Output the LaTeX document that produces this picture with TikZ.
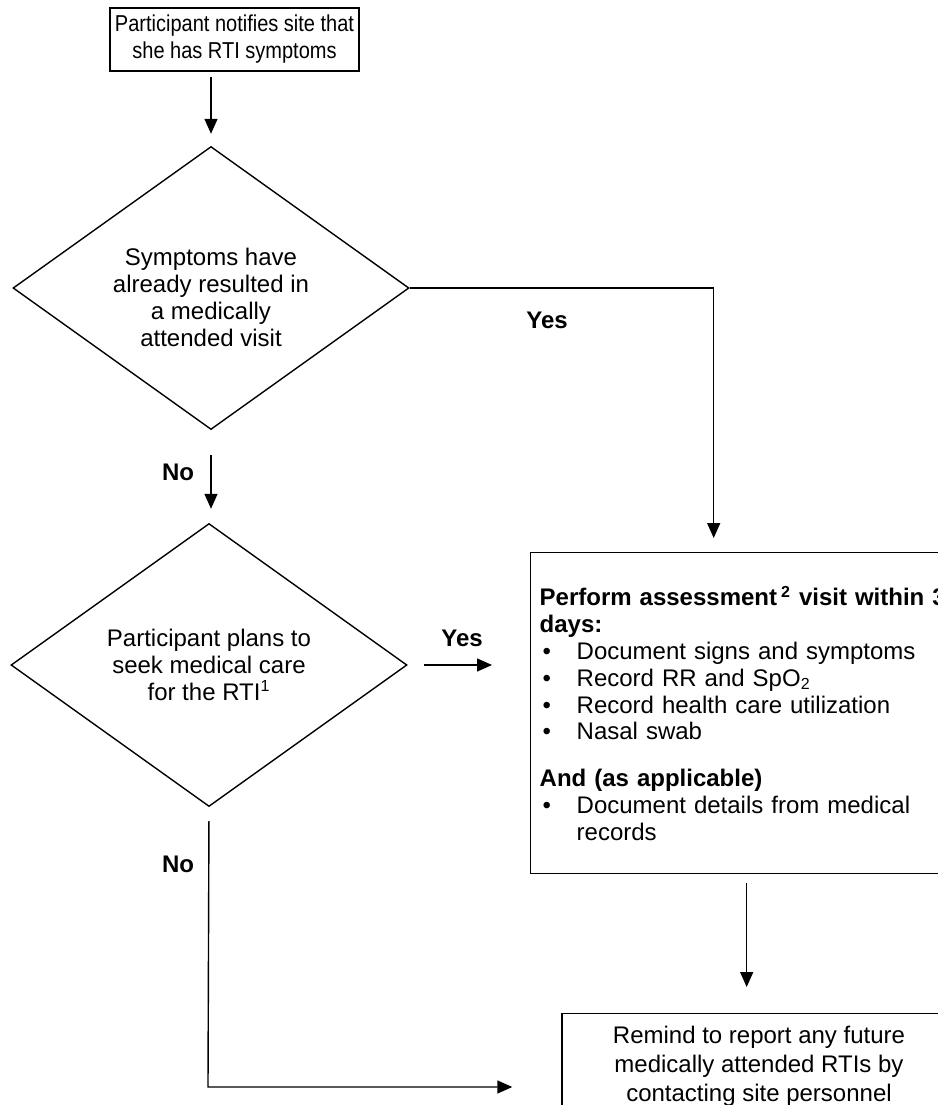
\documentclass[tikz,border=0pt]{standalone}
\usepackage{fontspec}
\setmainfont{Liberation Sans}
\newfontfamily\narrowsans[FakeStretch=0.87]{Liberation Sans}
\usetikzlibrary{shapes.geometric,arrows.meta}

\newcommand{\itembullet}{\hspace*{1.5pt}\makebox[17pt][l]{\textbullet}}

\begin{document}
\begin{tikzpicture}[x=0.5pt,y=-0.5pt,
  box/.style={draw, line width=0.7pt, font=\fontsize{12}{13.4}\selectfont},
  decision/.style={draw, diamond, aspect=1.4, line width=0.7pt, inner sep=0pt,
    minimum width=198pt, minimum height=141.5pt, align=center,
    font=\fontsize{12}{13.4}\selectfont},
  arr/.style={-{Triangle[length=7.5pt,width=6.5pt]}, line width=0.7pt},
  answer/.style={font=\fontsize{12}{14}\selectfont\bfseries}]

\useasboundingbox (0,0) rectangle (938,1105);

% -------------------------------------------------
% Boxes and decisions
% -------------------------------------------------
\node[box, align=center, minimum width=124.5pt, minimum height=31.5pt, inner xsep=2pt,
  font=\narrowsans\fontsize{11.5}{13.5}\selectfont] (notify) at (234.5,39.5)
  {Participant notifies site that\\she has RTI symptoms};

\node[decision] (visit) at (211,288)
  {\rule{0pt}{18pt}Symptoms have\\already resulted in\\a medically\\attended visit};

\node[decision] (plans) at (209,665)
  {Participant plans to\\seek medical care\\for the RTI\textsuperscript{1}};

\node[box, anchor=north west, minimum width=216pt, minimum height=160.5pt,
  text width=207pt, inner xsep=4.5pt, inner ysep=0pt, align=left] (assess) at (530,552)
  {\mbox{\bfseries Perform assessment\,\textsuperscript{2} visit within 3}\\
   {\bfseries days:}\\
   \itembullet Document signs and symptoms\\
   \itembullet Record RR and SpO\textsubscript{2}\\
   \itembullet Record health care utilization\\
   \itembullet Nasal swab\\[10pt]
   {\bfseries And (as applicable)}\\
   \itembullet Document details from medical\\
   \hspace*{18.5pt}records};

\node[box, anchor=north, minimum width=197pt, minimum height=53pt, align=center,
  font=\fontsize{12}{14.5}\selectfont] (remind) at (759,1013)
  {Remind to report any future\\medically attended RTIs by\\contacting site personnel};

% -------------------------------------------------
% Connectors
% -------------------------------------------------
\draw[arr, shorten <=2.5pt, shorten >=6pt] (notify.south -| visit.north) -- (visit.north);
\draw[arr, shorten <=12.5pt, shorten >=7pt] (visit.south) -- (visit.south |- plans.north);
\draw[arr, shorten >=7pt] (visit.east) -| ([xshift=-16.5pt]assess.north);
\draw[arr, shorten <=8pt, shorten >=19pt] (plans.east) -- (plans.east -| assess.west);
\coordinate (nobend) at (208,1087);
\draw[arr, shorten <=7pt, shorten >=24.5pt] (plans.south) -- (nobend) -- (nobend -| remind.west);
\draw[arr, shorten <=4.5pt, shorten >=13pt] (assess.south) -- (assess.south |- remind.north);

% -------------------------------------------------
% Labels
% -------------------------------------------------
\node[answer] (yesvisit) at (547,320) {Yes};
\node[answer] (novisit) at (178,472) {No};
\node[answer] (yesplans) at (462,638) {Yes};
\node[answer] (noplans) at (178,864) {No};

\end{tikzpicture}
\end{document}
